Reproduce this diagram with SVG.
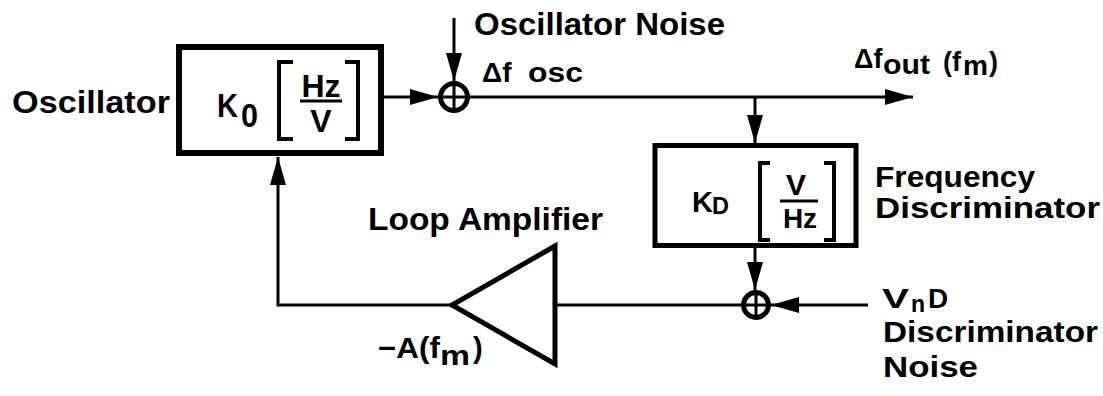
<svg xmlns="http://www.w3.org/2000/svg" width="1103" height="396" viewBox="0 0 1103 396">
<style>
text{font-family:"Liberation Sans",Arial,Helvetica,sans-serif;font-weight:bold;fill:#000}
.lbl{font-size:32px}
.box{fill:none;stroke:#000;stroke-width:6}
.br{fill:none;stroke:#000;stroke-width:4}
.frac{stroke:#000;stroke-width:3}
.wire{fill:none;stroke:#000;stroke-width:3}
.sum{fill:#fff;stroke:#000;stroke-width:5}
.cross{stroke:#000;stroke-width:3}
.amp{fill:#fff;stroke:#000;stroke-width:5;stroke-linejoin:miter}
</style>
<defs>
<marker id="ah" markerUnits="userSpaceOnUse" markerWidth="28" markerHeight="16" refX="28" refY="8" orient="auto">
<path d="M0,0 L28,8 L0,16 Z" fill="#000"/>
</marker>
</defs>
<g id="connectors">
<line class="wire" x1="381" y1="97" x2="438" y2="97" marker-end="url(#ah)"/>
<line class="wire" x1="454" y1="18" x2="454" y2="81" marker-end="url(#ah)"/>
<line class="wire" x1="470" y1="97" x2="913" y2="97" marker-end="url(#ah)"/>
<line class="wire" x1="755" y1="97" x2="755" y2="143" marker-end="url(#ah)"/>
<line class="wire" x1="755" y1="248" x2="755" y2="290" marker-end="url(#ah)"/>
<line class="wire" x1="868" y1="305" x2="771" y2="305" marker-end="url(#ah)"/>
<line class="wire" x1="741" y1="305" x2="555" y2="305"/>
<polyline class="wire" points="452,305 278,305 278,157" marker-end="url(#ah)"/>
</g>
<g id="oscillator">
<rect class="box" x="179" y="47" width="202" height="106"/>
<text class="lbl" x="12" y="113" textLength="158" lengthAdjust="spacingAndGlyphs">Oscillator</text>
<text x="217" y="117" font-size="34" textLength="21" lengthAdjust="spacingAndGlyphs">K</text>
<text x="241" y="127" font-size="33" textLength="17" lengthAdjust="spacingAndGlyphs">0</text>
<path class="br" d="M293,62 H279 V139 H293"/>
<path class="br" d="M345,62 H358 V139 H345"/>
<text x="321" y="97" font-size="32" text-anchor="middle">Hz</text>
<line class="frac" x1="300" y1="101" x2="342" y2="101"/>
<text x="321" y="132" font-size="32" text-anchor="middle">V</text>
</g>
<g id="sum1">
<circle class="sum" cx="454" cy="97" r="13.5"/>
<line class="cross" x1="454" y1="85" x2="454" y2="109"/>
<line class="cross" x1="442" y1="97" x2="466" y2="97"/>
<text class="lbl" x="474" y="35" textLength="251" lengthAdjust="spacingAndGlyphs">Oscillator Noise</text>
<text font-size="28"><tspan x="482" y="82">Δf</tspan><tspan x="528" y="82" textLength="55" lengthAdjust="spacingAndGlyphs">osc</tspan></text>
</g>
<g id="output">
<text font-size="27"><tspan x="854" y="68">Δf</tspan><tspan x="883" y="74" textLength="47" lengthAdjust="spacingAndGlyphs">out</tspan><tspan x="943" y="71">(f</tspan><tspan x="963" y="75" textLength="25" lengthAdjust="spacingAndGlyphs">m</tspan><tspan x="989" y="71">)</tspan></text>
</g>
<g id="discriminator">
<rect class="box" x="655" y="145.5" width="201" height="100" style="stroke-width:5"/>
<text x="692" y="212" font-size="29" textLength="21" lengthAdjust="spacingAndGlyphs">K</text>
<text x="712" y="214" font-size="23" textLength="17" lengthAdjust="spacingAndGlyphs">D</text>
<path class="br" d="M770,163 H760 V240 H770"/>
<path class="br" d="M824,163 H834 V240 H824"/>
<text x="796" y="195" font-size="30" text-anchor="middle">V</text>
<line class="frac" x1="780" y1="201" x2="818" y2="201"/>
<text x="800" y="228" font-size="28" text-anchor="middle">Hz</text>
<text class="lbl" x="875" y="187" style="font-size:30px" textLength="160" lengthAdjust="spacingAndGlyphs">Frequency</text>
<text class="lbl" x="875" y="218" style="font-size:30px" textLength="225" lengthAdjust="spacingAndGlyphs">Discriminator</text>
</g>
<g id="sum2">
<circle class="sum" cx="756" cy="305" r="12.5"/>
<line class="cross" x1="756" y1="294" x2="756" y2="316"/>
<line class="cross" x1="745" y1="305" x2="767" y2="305"/>
<text font-size="28"><tspan x="882" y="308" textLength="27" lengthAdjust="spacingAndGlyphs">V</tspan><tspan x="911" y="312" font-size="23">n</tspan><tspan x="928" y="308">D</tspan></text>
<text class="lbl" x="883" y="342" style="font-size:30px" textLength="215" lengthAdjust="spacingAndGlyphs">Discriminator</text>
<text class="lbl" x="883" y="377" style="font-size:30px" textLength="95" lengthAdjust="spacingAndGlyphs">Noise</text>
</g>
<g id="amplifier">
<polygon class="amp" points="555,246 452,305 555,364"/>
<text class="lbl" x="368" y="230" textLength="235" lengthAdjust="spacingAndGlyphs">Loop Amplifier</text>
<text font-size="29"><tspan x="378" y="358" textLength="62" lengthAdjust="spacingAndGlyphs">−A(f</tspan><tspan x="440" y="365" font-size="28" textLength="30" lengthAdjust="spacingAndGlyphs">m</tspan><tspan x="473" y="358">)</tspan></text>
</g>
</svg>
